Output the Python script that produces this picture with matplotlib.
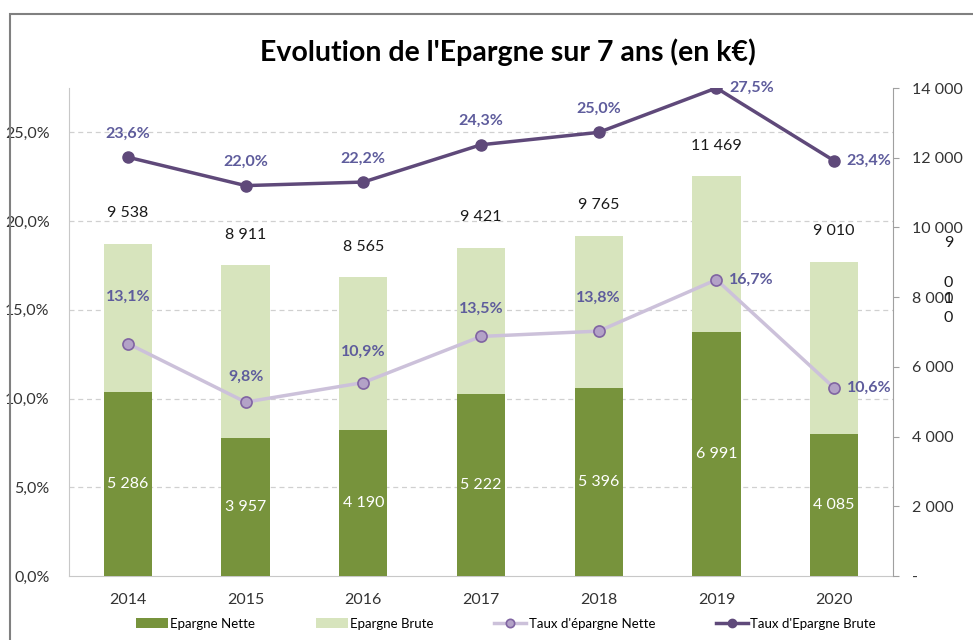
import numpy as np
import matplotlib
matplotlib.use("Agg")
import matplotlib.pyplot as plt
from matplotlib.patches import Rectangle
from matplotlib.ticker import FuncFormatter

# data
years = ["2014", "2015", "2016", "2017", "2018", "2019", "2020"]
epargne_brute = [9538, 8911, 8565, 9421, 9765, 11469, 9010]
epargne_nette = [5286, 3957, 4190, 5222, 5396, 6991, 4085]
taux_brute = [23.6, 22.0, 22.2, 24.3, 25.0, 27.5, 23.4]
taux_nette = [13.1, 9.8, 10.9, 13.5, 13.8, 16.7, 10.6]

# label placement for the percentage labels ("above" or "right") and offsets in points
pos_brute = ["above", "above", "above", "above", "above", "right", "right"]
pos_nette = ["above", "above", "above", "above", "above", "right", "right"]
off_nette = [34, 18, 22, 20, 24, 0, 0]

plt.rcParams['font.family'] = ['Lato', 'DejaVu Sans']

c_nette = "#77933C"
c_brute = "#D7E4BD"
c_line_brute = "#5F497A"
c_line_nette = "#CCC1DA"
c_lbl = "#5E5C9C"

fig = plt.figure(figsize=(9.73, 6.4), dpi=100)
ax = fig.add_axes([69 / 973, 1 - 576 / 640, 824 / 973, 488 / 640])
ax2 = ax.twinx()

x = np.arange(len(years))

# bars on the right axis (k€)
ax2.bar(x, epargne_brute, width=0.41, color=c_brute, zorder=1, label="Epargne Brute")
ax2.bar(x, epargne_nette, width=0.41, color=c_nette, zorder=2, label="Epargne Nette")
ax2.set_ylim(0, 14000)
ax2.set_yticks(np.arange(0, 14001, 2000))
ax2.yaxis.set_major_formatter(FuncFormatter(
    lambda v, p: "-" if v == 0 else "{:,.0f}".format(v).replace(",", " ")))

for i in range(len(years)):
    ax2.text(x[i], epargne_nette[i] / 2, "{:,}".format(epargne_nette[i]).replace(",", " "),
             ha="center", va="center", color="white", fontsize=11.5, zorder=5)
    ax2.annotate("{:,}".format(epargne_brute[i]).replace(",", " "), (x[i], epargne_brute[i]),
                 xytext=(0, 22), textcoords="offset points", ha="center", va="center",
                 color="#1a1a1a", fontsize=11.5, zorder=5)

# stray wrapped label on the right side of the original
for ch, v in zip(["9", "0", "1", "0"], [9550, 8400, 7950, 7400]):
    ax2.text(6.97, v, ch, ha="center", va="center", fontsize=11.5, color="#1a1a1a", clip_on=False)

# lines on the left axis (%) -> drawn on a third axis sharing the left scale but on top
ax3 = ax.twinx()
ax3.set_ylim(0, 27.5)
ax3.axis("off")
ax.set_ylim(0, 27.5)
ax.set_xlim(-0.5, 6.5)
ax2.set_xlim(-0.5, 6.5)
ax3.set_xlim(-0.5, 6.5)

ax3.plot(x, taux_nette, color=c_line_nette, lw=2.5, marker="o", ms=8,
         mfc="#B3A2C7", mec="#8064A2", mew=1.2, label="Taux d'épargne Nette", zorder=3)
ax3.plot(x, taux_brute, color=c_line_brute, lw=2.5, marker="o", ms=8,
         mfc=c_line_brute, mec=c_line_brute, label="Taux d'Epargne Brute", zorder=3)

for i in range(len(years)):
    s = "{:.1f}%".format(taux_brute[i]).replace(".", ",")
    if pos_brute[i] == "above":
        ax3.annotate(s, (x[i], taux_brute[i]), xytext=(0, 17), textcoords="offset points",
                     ha="center", va="center", color=c_lbl, fontsize=11.5, fontweight="bold")
    else:
        ax3.annotate(s, (x[i], taux_brute[i]), xytext=(9, 0), textcoords="offset points",
                     ha="left", va="center", color=c_lbl, fontsize=11.5, fontweight="bold")
    s = "{:.1f}%".format(taux_nette[i]).replace(".", ",")
    if pos_nette[i] == "above":
        ax3.annotate(s, (x[i], taux_nette[i]), xytext=(0, off_nette[i]), textcoords="offset points",
                     ha="center", va="center", color=c_lbl, fontsize=11.5, fontweight="bold")
    else:
        ax3.annotate(s, (x[i], taux_nette[i]), xytext=(9, 0), textcoords="offset points",
                     ha="left", va="center", color=c_lbl, fontsize=11.5, fontweight="bold")

# left axis
ax.set_yticks(np.arange(0, 26, 5))
ax.yaxis.set_major_formatter(FuncFormatter(lambda v, p: "{:.1f}%".format(v).replace(".", ",")))
ax.set_xticks(x)
ax.set_xticklabels(years)
ax.tick_params(axis="both", length=0, labelsize=11.5, colors="#333333", pad=12)
ax.tick_params(axis="y", pad=14)
for v in np.arange(5, 26, 5):
    ax.axhline(v, color="#D0D0D0", lw=0.9, ls=(0, (4, 3)), zorder=0)
ax.set_zorder(0)
ax2.set_zorder(1)
ax3.set_zorder(2)
ax.patch.set_visible(False)
ax2.patch.set_visible(False)

for a in (ax, ax2):
    for sp in a.spines.values():
        sp.set_visible(False)
ax.spines["left"].set_visible(True)
ax.spines["left"].set_color("#C8C8C8")
ax.spines["bottom"].set_visible(True)
ax.spines["bottom"].set_color("#C8C8C8")
ax2.spines["right"].set_visible(True)
ax2.spines["right"].set_color("#A0A0A0")
ax2.tick_params(axis="y", direction="out", length=4, color="#A0A0A0", labelsize=11.5,
                labelcolor="#333333", pad=10)

fig.text(0.522, 1 - 52 / 640, "Evolution de l'Epargne sur 7 ans (en k€)", ha="center", va="center",
         fontsize=20.5, fontweight="bold", color="black")

# legend
h2, l2 = ax2.get_legend_handles_labels()
h3, l3 = ax3.get_legend_handles_labels()
handles = [h2[1], h2[0], h3[0], h3[1]]
labels = [l2[1], l2[0], l3[0], l3[1]]
fig.legend(handles, labels, loc="center", bbox_to_anchor=(0.52, 1 - 624 / 640), ncol=4,
           frameon=False, fontsize=9.5, handlelength=2.4, handleheight=0.8, columnspacing=4.6,
           handletextpad=0.2, markerscale=0.75)

# outer chart border
fig.patches.append(Rectangle((10 / 973, -0.1), 1.2, 1 - 14 / 640 + 0.1, transform=fig.transFigure,
                             fill=False, edgecolor="#808080", lw=1.5))

fig.savefig("out.png", dpi=100)
